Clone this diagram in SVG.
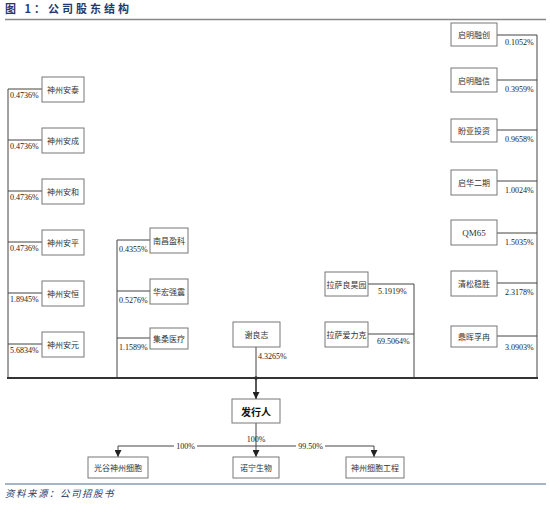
<svg xmlns="http://www.w3.org/2000/svg" width="550" height="505" viewBox="0 0 550 505">
<defs>
<style>
.box{fill:#fff;stroke:#777;stroke-width:1}
.t{font-family:"Noto Sans CJK SC","Noto Sans",sans-serif;font-size:8px;fill:#333;text-anchor:middle;dominant-baseline:central}
.p{font-family:"Liberation Serif","Times New Roman",serif;font-size:8px;fill:#222}
.ln{stroke:#444;stroke-width:1;fill:none}
.title{font-family:"Noto Sans CJK SC",sans-serif;font-size:11px;font-weight:bold;fill:#1f3a6e;letter-spacing:3px}
.src{font-family:"Noto Sans CJK SC",sans-serif;font-size:9.5px;font-style:italic;fill:#1f3a6e;letter-spacing:1.5px}
</style>
<marker id="ah" viewBox="0 0 10 10" refX="10" refY="5" markerWidth="7" markerHeight="7" orient="auto" markerUnits="userSpaceOnUse">
<path d="M0,0 L10,5 L0,10 z" fill="#222"/>
</marker>
</defs>
<rect width="550" height="505" fill="#fff"/>
<text class="title" x="5" y="13">图 1：公司股东结构</text>
<line x1="5" y1="19.5" x2="546" y2="19.5" stroke="#888" stroke-width="1.5"/>

<g id="connectors">
<!-- left column -->
<line class="ln" x1="8" y1="89" x2="8" y2="378"/>
<line class="ln" x1="8" y1="89" x2="42" y2="89"/>
<line class="ln" x1="8" y1="140" x2="42" y2="140"/>
<line class="ln" x1="8" y1="191" x2="42" y2="191"/>
<line class="ln" x1="8" y1="242" x2="42" y2="242"/>
<line class="ln" x1="8" y1="293" x2="42" y2="293"/>
<line class="ln" x1="8" y1="344" x2="42" y2="344"/>
<!-- middle-left -->
<line class="ln" x1="117" y1="240" x2="117" y2="378"/>
<line class="ln" x1="117" y1="240" x2="150" y2="240"/>
<line class="ln" x1="117" y1="291" x2="150" y2="291"/>
<line class="ln" x1="117" y1="338" x2="150" y2="338"/>
<!-- xie -->
<line class="ln" x1="256" y1="347" x2="256" y2="378"/>
<!-- lasa -->
<line class="ln" x1="414" y1="284" x2="414" y2="378"/>
<line class="ln" x1="368" y1="284" x2="414" y2="284"/>
<line class="ln" x1="368" y1="334" x2="414" y2="334"/>
<!-- right column -->
<line class="ln" x1="537" y1="35" x2="537" y2="378"/>
<line class="ln" x1="497" y1="35" x2="537" y2="35"/>
<line class="ln" x1="497" y1="80" x2="537" y2="80"/>
<line class="ln" x1="497" y1="130" x2="537" y2="130"/>
<line class="ln" x1="497" y1="181" x2="537" y2="181"/>
<line class="ln" x1="497" y1="233" x2="537" y2="233"/>
<line class="ln" x1="497" y1="283" x2="537" y2="283"/>
<line class="ln" x1="497" y1="336" x2="537" y2="336"/>
<!-- bottom bus -->
<line x1="7" y1="378" x2="538" y2="378" stroke="#333" stroke-width="1.8"/>
<circle cx="256" cy="378" r="1.8" fill="#333"/>
<line x1="256" y1="378" x2="256" y2="399" stroke="#222" stroke-width="1.5" marker-end="url(#ah)"/>
<!-- issuer to subsidiaries -->
<line class="ln" x1="256" y1="423" x2="256" y2="446"/>
<line class="ln" x1="118" y1="446" x2="174" y2="446"/>
<line class="ln" x1="197" y1="446" x2="296" y2="446"/>
<line class="ln" x1="325" y1="446" x2="374" y2="446"/>
<line class="ln" x1="118" y1="446" x2="118" y2="457" marker-end="url(#ah)"/>
<line class="ln" x1="256" y1="446" x2="256" y2="457" marker-end="url(#ah)"/>
<line class="ln" x1="374" y1="446" x2="374" y2="457" marker-end="url(#ah)"/>
</g>

<g id="labels">
<text class="p" x="10" y="98">0.4736%</text>
<text class="p" x="10" y="149">0.4736%</text>
<text class="p" x="10" y="200">0.4736%</text>
<text class="p" x="10" y="251">0.4736%</text>
<text class="p" x="10" y="302">1.8945%</text>
<text class="p" x="10" y="353">5.6834%</text>
<text class="p" x="119" y="252">0.4355%</text>
<text class="p" x="119" y="303">0.5276%</text>
<text class="p" x="119" y="350">1.1589%</text>
<text class="p" x="258" y="359">4.3265%</text>
<text class="p" x="378" y="294">5.1919%</text>
<text class="p" x="377" y="344">69.5064%</text>
<text class="p" x="505" y="45">0.1052%</text>
<text class="p" x="505" y="92">0.3959%</text>
<text class="p" x="505" y="142">0.9658%</text>
<text class="p" x="505" y="193">1.0024%</text>
<text class="p" x="505" y="245">1.5035%</text>
<text class="p" x="505" y="295">2.3178%</text>
<text class="p" x="505" y="350">3.0903%</text>
<text class="p" x="185.5" y="449" text-anchor="middle">100%</text>
<text class="p" x="256" y="442" text-anchor="middle">100%</text>
<text class="p" x="310.5" y="449" text-anchor="middle">99.50%</text>
</g>

<g id="n-shenzhou-antai"><rect class="box" x="42" y="77" width="42" height="25"/><text class="t" x="63" y="89.5">神州安泰</text></g>
<g id="n-shenzhou-ancheng"><rect class="box" x="42" y="128" width="42" height="25"/><text class="t" x="63" y="140.5">神州安成</text></g>
<g id="n-shenzhou-anhe"><rect class="box" x="42" y="179" width="42" height="25"/><text class="t" x="63" y="191.5">神州安和</text></g>
<g id="n-shenzhou-anping"><rect class="box" x="42" y="230" width="42" height="25"/><text class="t" x="63" y="242.5">神州安平</text></g>
<g id="n-shenzhou-anheng"><rect class="box" x="42" y="281" width="42" height="25"/><text class="t" x="63" y="293.5">神州安恒</text></g>
<g id="n-shenzhou-anyuan"><rect class="box" x="42" y="332" width="42" height="25"/><text class="t" x="63" y="344.5">神州安元</text></g>

<g id="n-nanchang"><rect class="box" x="150" y="228" width="38" height="25"/><text class="t" x="169" y="240.5">南昌盈科</text></g>
<g id="n-huahong"><rect class="box" x="150" y="279" width="38" height="25"/><text class="t" x="169" y="291.5">华宏强震</text></g>
<g id="n-jisang"><rect class="box" x="150" y="328" width="38" height="21"/><text class="t" x="169" y="338.5">集桑医疗</text></g>

<g id="n-xieliangzhi"><rect class="box" x="233" y="322" width="47" height="25"/><text class="t" x="256.5" y="334.5">谢良志</text></g>

<g id="n-lasa-lianghaoyuan"><rect class="box" x="325" y="272" width="43" height="24"/><text class="t" x="346.5" y="284">拉萨良昊园</text></g>
<g id="n-lasa-ailike"><rect class="box" x="325" y="322" width="43" height="25"/><text class="t" x="346.5" y="334.5">拉萨爱力克</text></g>

<g id="n-qiming-rongchuang"><rect class="box" x="451" y="23" width="46" height="23"/><text class="t" x="474" y="34.5">启明融创</text></g>
<g id="n-qiming-rongxin"><rect class="box" x="451" y="68" width="46" height="24"/><text class="t" x="474" y="80">启明融信</text></g>
<g id="n-panya"><rect class="box" x="451" y="119" width="46" height="23"/><text class="t" x="474" y="130.5">盼亚投资</text></g>
<g id="n-qihua"><rect class="box" x="451" y="170" width="46" height="25"/><text class="t" x="474" y="182.5">启华二期</text></g>
<g id="n-qm65"><rect class="box" x="451" y="220" width="46" height="25"/><text class="t" x="474" y="232.5" style="font-family:'Liberation Serif',serif;font-size:9px">QM65</text></g>
<g id="n-qingsong"><rect class="box" x="451" y="271" width="46" height="25"/><text class="t" x="474" y="283.5">清松稳胜</text></g>
<g id="n-dinghui"><rect class="box" x="451" y="326" width="46" height="21"/><text class="t" x="474" y="336.5">鼎晖孚冉</text></g>

<g id="n-issuer"><rect class="box" x="232" y="399" width="48" height="24"/><text class="t" x="256" y="411" style="font-size:10px;font-weight:bold;fill:#111">发行人</text></g>

<g id="n-guanggu"><rect class="box" x="88" y="457" width="60" height="21"/><text class="t" x="118" y="467.5">光谷神州细胞</text></g>
<g id="n-nuoning"><rect class="box" x="233" y="457" width="46" height="21"/><text class="t" x="256" y="467.5">诺宁生物</text></g>
<g id="n-shenzhou-eng"><rect class="box" x="346" y="457" width="58" height="21"/><text class="t" x="375" y="467.5">神州细胞工程</text></g>

<line x1="5" y1="484" x2="546" y2="484" stroke="#8a9ab5" stroke-width="1.5"/>
<text class="src" x="5" y="497">资料来源：公司招股书</text>
</svg>
